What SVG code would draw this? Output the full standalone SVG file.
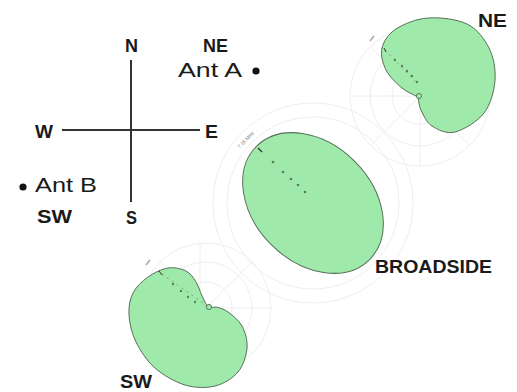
<svg xmlns="http://www.w3.org/2000/svg" width="517" height="392" viewBox="0 0 517 392">
<style>
.lbl{font-family:"Liberation Sans",Arial,sans-serif;font-weight:bold;fill:#1a1a1a;font-size:18px}
.ant{font-family:"Liberation Sans",Arial,sans-serif;fill:#1a1a1a;font-size:21px}
.grid{fill:none;stroke:#eeeeee;stroke-width:1}
.lobe{fill:#9fe9aa;stroke:#56705a;stroke-width:1}
.axis{stroke:#6f8f72;stroke-width:0.8;fill:none}
.dot{fill:#5d7d60}
.tiny{font-family:"Liberation Sans",Arial,sans-serif;font-size:5px;fill:#777}
.comp{stroke:#333;stroke-width:2}
</style>
<rect width="517" height="392" fill="#ffffff"/>

<g id="compass">
<line class="comp" x1="131" y1="60" x2="131" y2="202"/>
<line class="comp" x1="62" y1="130" x2="200" y2="130"/>
<text class="lbl" x="125" y="52" textLength="13" lengthAdjust="spacingAndGlyphs">N</text>
<text class="lbl" x="35" y="138" textLength="18" lengthAdjust="spacingAndGlyphs">W</text>
<text class="lbl" x="205" y="138" textLength="13" lengthAdjust="spacingAndGlyphs">E</text>
<text class="lbl" x="126" y="224" textLength="11" lengthAdjust="spacingAndGlyphs">S</text>
</g>

<g id="antA">
<text class="lbl" x="203" y="52" font-size="17" textLength="25" lengthAdjust="spacingAndGlyphs">NE</text>
<text class="ant" x="178" y="77" textLength="64" lengthAdjust="spacingAndGlyphs">Ant A</text>
<circle cx="256" cy="71" r="3.6" fill="#111"/>
</g>

<g id="antB">
<circle cx="23" cy="187" r="3.6" fill="#111"/>
<text class="ant" x="35" y="192" textLength="62" lengthAdjust="spacingAndGlyphs">Ant B</text>
<text class="lbl" x="37" y="223" textLength="35" lengthAdjust="spacingAndGlyphs">SW</text>
</g>

<g id="patternNE">
<circle class="grid" cx="420" cy="96" r="70"/>
<circle class="grid" cx="420" cy="96" r="50"/>
<circle class="grid" cx="420" cy="96" r="28"/>
<line class="grid" x1="420" y1="26" x2="420" y2="166"/>
<line class="grid" x1="350" y1="96" x2="490" y2="96"/>
<line class="grid" x1="371" y1="47" x2="469" y2="145"/>
<line class="grid" x1="371" y1="145" x2="469" y2="47"/>
<path class="lobe" d="M418,97 C412.7,94 407.3,92.5 402,88 C396.7,83.5 389.3,76.7 386,70 C382.7,63.3 380.3,54.8 382,48 C383.7,41.2 388.3,34 396,29 C403.7,24 416.2,18.8 428,18 C439.8,17.2 456.8,19 467,24 C477.2,29 484.3,38.7 489,48 C493.7,57.3 495.8,69.2 495,80 C494.2,90.8 490.7,104.3 484,113 C477.3,121.7 463.7,129.8 455,132 C446.3,134.2 437.7,129.7 432,126 C426.3,122.3 423.3,114.8 421,110 C418.7,105.2 419,101.3 418,97 Z"/>
<circle cx="419" cy="96" r="2.6" fill="#9fe9aa" stroke="#56705a" stroke-width="0.9"/>
<line class="axis" x1="385" y1="50" x2="417" y2="83" stroke-dasharray="2 4"/>
<circle class="dot" cx="395" cy="60" r="1.2"/>
<circle class="dot" cx="402" cy="66" r="1.2"/>
<circle class="dot" cx="407" cy="71" r="1.2"/>
<circle class="dot" cx="412" cy="76" r="1.2"/>
<circle class="dot" cx="417" cy="82" r="1.2"/>
<line x1="384" y1="48" x2="386" y2="52" stroke="#333" stroke-width="1"/>
<line x1="370" y1="41" x2="374" y2="36" stroke="#aaa" stroke-width="1.6"/>
<text class="lbl" x="478" y="27" font-size="17" textLength="29" lengthAdjust="spacingAndGlyphs">NE</text>
</g>

<g id="patternBroadside">
<circle class="grid" cx="313" cy="203" r="86"/>
<circle class="grid" cx="313" cy="203" r="100"/>
<ellipse class="lobe" cx="313" cy="203" rx="80" ry="59" transform="rotate(45 313 203)"/>
<line x1="262" y1="152" x2="356" y2="246" stroke="#b2d8b7" stroke-width="0.7"/>
<circle class="dot" cx="273" cy="162" r="1.3"/>
<circle class="dot" cx="283" cy="172" r="1.3"/>
<circle class="dot" cx="291" cy="179" r="1.3"/>
<circle class="dot" cx="298" cy="185" r="1.3"/>
<circle class="dot" cx="305" cy="192" r="1.3"/>
<line x1="258" y1="148" x2="262" y2="152" stroke="#333" stroke-width="1.2"/>
<text class="tiny" x="247" y="141" text-anchor="middle" transform="rotate(-45 247 141)">7.15 MHz</text>
<text class="lbl" x="375" y="273" textLength="117" lengthAdjust="spacingAndGlyphs">BROADSIDE</text>
</g>

<g id="patternSW">
<circle class="grid" cx="206" cy="308" r="65"/>
<circle class="grid" cx="206" cy="308" r="46"/>
<circle class="grid" cx="206" cy="308" r="26"/>
<line class="grid" x1="200" y1="243" x2="200" y2="373"/>
<line class="grid" x1="141" y1="308" x2="271" y2="308"/>
<line class="grid" x1="160" y1="262" x2="252" y2="354"/>
<line class="grid" x1="160" y1="354" x2="252" y2="262"/>
<path class="lobe" d="M208,308 C206,304 204,300.3 202,296 C200,291.7 198.7,286.2 196,282 C193.3,277.8 190.7,273.3 186,271 C181.3,268.7 174.3,267 168,268 C161.7,269 153.8,272.8 148,277 C142.2,281.2 136.2,286.7 133,293 C129.8,299.3 128.5,306.8 129,315 C129.5,323.2 131.7,333.2 136,342 C140.3,350.8 146.8,360.8 155,368 C163.2,375.2 175,382 185,385 C195,388 206.2,388.2 215,386 C223.8,383.8 232.7,378.3 238,372 C243.3,365.7 246.3,355.7 247,348 C247.7,340.3 245.2,332 242,326 C238.8,320 232.3,315.2 228,312 C223.7,308.8 219.3,307.7 216,307 C212.7,307.3 210.7,307.7 208,308 Z"/>
<circle cx="209" cy="307" r="2.6" fill="#9fe9aa" stroke="#56705a" stroke-width="0.9"/>
<line class="axis" x1="162" y1="274" x2="203" y2="303" stroke-dasharray="2 4"/>
<circle class="dot" cx="173" cy="284" r="1.2"/>
<circle class="dot" cx="181" cy="291" r="1.2"/>
<circle class="dot" cx="188" cy="297" r="1.2"/>
<circle class="dot" cx="195" cy="302" r="1.2"/>
<line x1="159" y1="271" x2="162" y2="275" stroke="#333" stroke-width="1"/>
<line x1="146" y1="265" x2="150" y2="260" stroke="#aaa" stroke-width="1.6"/>
<text class="lbl" x="120" y="388" textLength="32" lengthAdjust="spacingAndGlyphs">SW</text>
</g>
</svg>
